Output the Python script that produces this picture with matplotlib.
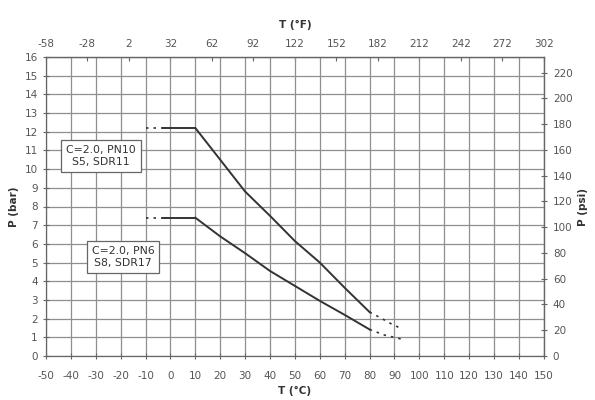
import numpy as np
import matplotlib
matplotlib.use("Agg")
import matplotlib.pyplot as plt

plt.rcParams["axes.unicode_minus"] = False

# PN10 (S5, SDR11) curve
pn10_t = [10, 20, 30, 40, 50, 60, 70, 80]
pn10_p = [12.2, 10.5, 8.8, 7.5, 6.15, 5.0, 3.65, 2.35]
pn10_ext_t = [80, 85, 88, 93]
pn10_ext_p = [2.35, 2.0, 1.77, 1.45]

# PN6 (S8, SDR17) curve
pn6_t = [10, 20, 30, 40, 50, 60, 70, 80]
pn6_p = [7.4, 6.4, 5.5, 4.55, 3.75, 2.95, 2.2, 1.42]
pn6_ext_t = [80, 86, 93]
pn6_ext_p = [1.42, 1.12, 0.9]

# flat parts (dotted left end + solid)
flat_dot_t = [-10, -3]
flat_t = [-3, 10]
pn10_flat = 12.2
pn6_flat = 7.4

c_ticks = np.arange(-50, 151, 10)
bar_ticks = np.arange(0, 17, 1)
f_ticks = np.arange(-58, 303, 30)
psi_ticks = np.arange(0, 221, 20)

PSI = 14.5038

fig = plt.figure(figsize=(5.95, 4.0), dpi=100)
ax = fig.add_axes([0.0773, 0.11, 0.8367, 0.7475])

line_kw = dict(color="#333333", lw=1.4)
dot_kw = dict(color="#333333", lw=1.2, linestyle=(0, (1.5, 3)))

ax.plot(pn10_t, pn10_p, **line_kw)
ax.plot(pn6_t, pn6_p, **line_kw)
ax.plot(flat_t, [pn10_flat] * 2, **line_kw)
ax.plot(flat_t, [pn6_flat] * 2, **line_kw)
ax.plot(flat_dot_t, [pn10_flat] * 2, **dot_kw)
ax.plot(flat_dot_t, [pn6_flat] * 2, **dot_kw)
ax.plot(pn10_ext_t, pn10_ext_p, **dot_kw)
ax.plot(pn6_ext_t, pn6_ext_p, **dot_kw)

ax.set_xlim(-50, 150)
ax.set_ylim(0, 16)
ax.set_xticks(c_ticks)
ax.set_yticks(bar_ticks)
ax.grid(True, color="#8f8f8f", lw=0.9)
ax.set_axisbelow(True)
for s in ax.spines.values():
    s.set_color("#666666")
    s.set_linewidth(0.9)

tick_col = "#555555"
ax.tick_params(axis="both", direction="inout", length=4, width=0.8,
               color="#666666", labelsize=7.5, labelcolor=tick_col, pad=4)
ax.tick_params(axis="x", pad=9)

ax.set_xlabel("T (°C)", fontsize=7.5, fontweight="bold", color="#333333", labelpad=3)
ax.set_ylabel("P (bar)", fontsize=7.5, fontweight="bold", color="#333333", labelpad=4)

# top axis in °F
top = ax.secondary_xaxis("top", functions=(lambda c: c * 9 / 5 + 32,
                                           lambda f: (f - 32) * 5 / 9))
top.set_xticks(f_ticks)
top.tick_params(direction="in", length=3, width=0.8, color="#666666",
                labelsize=7.5, labelcolor=tick_col, pad=6)
top.set_xlabel("T (°F)", fontsize=7.5, fontweight="bold", color="#333333", labelpad=8)

# right axis in psi
right = ax.secondary_yaxis("right", functions=(lambda b: b * PSI,
                                               lambda p: p / PSI))
right.set_yticks(psi_ticks)
right.tick_params(direction="inout", length=5, width=0.8, color="#666666",
                  labelsize=7.5, labelcolor=tick_col, pad=4)
right.set_ylabel("P (psi)", fontsize=7.5, fontweight="bold", color="#333333", labelpad=4)

box = dict(boxstyle="square,pad=0.45", fc="white", ec="#666666", lw=0.9)
ax.text(-28, 10.7, "C=2.0, PN10\nS5, SDR11", ha="center", va="center",
        fontsize=7.8, color="#333333", bbox=box, linespacing=1.35)
ax.text(-19, 5.3, "C=2.0, PN6\nS8, SDR17", ha="center", va="center",
        fontsize=7.8, color="#333333", bbox=box, linespacing=1.35)

fig.savefig("out.png", dpi=100)
